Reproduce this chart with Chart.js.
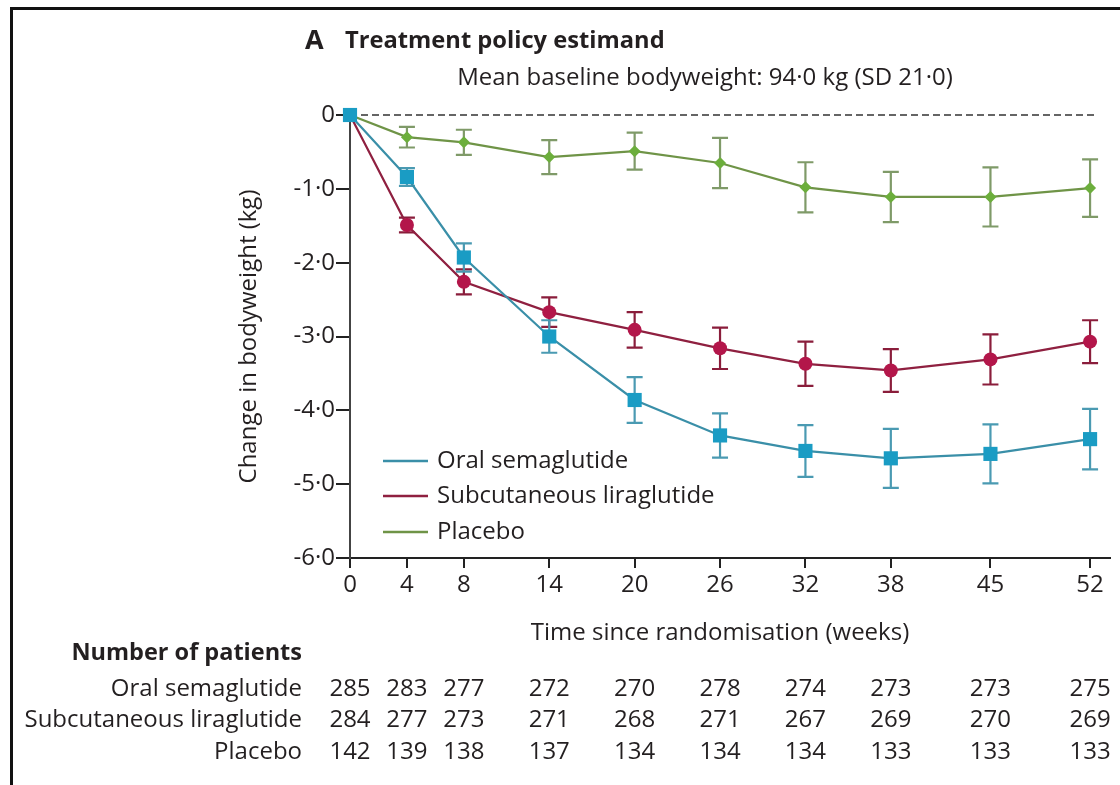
<!DOCTYPE html>
<html>
<head>
<meta charset="utf-8">
<script src="https://cdn.jsdelivr.net/npm/chart.js@4.4.1/dist/chart.umd.min.js"></script>
<style>
  html, body { margin: 0; padding: 0; background: #fff; }
  #wrap { position: relative; width: 1120px; height: 785px; overflow: hidden; }
  #frame { position: absolute; left: 10px; top: 7px; right: -5px; bottom: -5px;
           border-left: 3px solid #111; border-top: 3px solid #111; pointer-events: none; }
  canvas { display: block; }
</style>
</head>
<body>
<div id="wrap">
  <canvas id="chart" width="1120" height="785"></canvas>
  <div id="frame"></div>
</div>
<script>
// Visit weeks (x positions of ticks and table columns)
const weeks = [0, 4, 8, 14, 20, 26, 32, 38, 45, 52];

// Mean change in bodyweight (kg) and error-bar half-widths per group
const semaMean = [0, -0.84, -1.93, -3.00, -3.86, -4.34, -4.55, -4.65, -4.59, -4.39];
const semaErr  = [0, 0.12, 0.19, 0.22, 0.31, 0.30, 0.35, 0.40, 0.40, 0.41];
const liraMean = [0, -1.49, -2.26, -2.67, -2.91, -3.16, -3.37, -3.46, -3.31, -3.07];
const liraErr  = [0, 0.10, 0.17, 0.20, 0.24, 0.28, 0.30, 0.29, 0.34, 0.29];
const placMean = [0, -0.30, -0.37, -0.57, -0.49, -0.65, -0.98, -1.11, -1.11, -0.99];
const placErr  = [0, 0.14, 0.17, 0.23, 0.25, 0.34, 0.34, 0.34, 0.40, 0.39];

// Number of patients at each visit
const nSema = [285, 283, 277, 272, 270, 278, 274, 273, 273, 275];
const nLira = [284, 277, 273, 271, 268, 271, 267, 269, 270, 269];
const nPlac = [142, 139, 138, 137, 134, 134, 134, 133, 133, 133];

const groupNames = ['Oral semaglutide', 'Subcutaneous liraglutide', 'Placebo'];
const yTicks = [0, -1, -2, -3, -4, -5, -6];

const FONT = '"Open Sans", Lato, sans-serif';
const TXT = '#231f20';
const FS = 24;

const series = [
  { name: groupNames[0], mean: semaMean, err: semaErr, n: nSema,
    line: '#3a8fa8', fill: '#1a9cc4', bar: '#4a9ab2', shape: 'rect', r: 10 },
  { name: groupNames[1], mean: liraMean, err: liraErr, n: nLira,
    line: '#8f2040', fill: '#b3164a', bar: '#8a1d3b', shape: 'circle', r: 7 },
  { name: groupNames[2], mean: placMean, err: placErr, n: nPlac,
    line: '#6f9447', fill: '#6cae3c', bar: '#7f9a68', shape: 'rectRot', r: 6 }
];

const datasets = series.map(s => ({
  label: s.name,
  data: weeks.map((w, i) => ({ x: w, y: s.mean[i] })),
  borderColor: s.line,
  borderWidth: 2.2,
  backgroundColor: s.fill,
  pointBackgroundColor: s.fill,
  pointBorderColor: s.fill,
  pointBorderWidth: 0,
  pointStyle: s.shape,
  pointRadius: s.r,
  tension: 0,
  clip: false
}));

// Reference line at 0, error bars, legend, headings and the patient table
const annotations = {
  id: 'annotations',
  beforeDatasetsDraw(chart) {
    const { ctx, scales: { x, y } } = chart;
    ctx.save();
    // dashed zero line
    ctx.strokeStyle = '#333';
    ctx.lineWidth = 1.3;
    ctx.setLineDash([7, 4]);
    ctx.beginPath();
    ctx.moveTo(x.getPixelForValue(0), y.getPixelForValue(0));
    ctx.lineTo(x.getPixelForValue(52.4), y.getPixelForValue(0));
    ctx.stroke();
    ctx.setLineDash([]);
    // error bars
    series.slice().reverse().forEach(s => {
      ctx.strokeStyle = s.bar;
      ctx.lineWidth = 2.2;
      weeks.forEach((w, i) => {
        if (!s.err[i]) return;
        const px = x.getPixelForValue(w);
        const top = y.getPixelForValue(s.mean[i] + s.err[i]);
        const bot = y.getPixelForValue(s.mean[i] - s.err[i]);
        ctx.beginPath();
        ctx.moveTo(px, top); ctx.lineTo(px, bot);
        ctx.moveTo(px - 8, top); ctx.lineTo(px + 8, top);
        ctx.moveTo(px - 8, bot); ctx.lineTo(px + 8, bot);
        ctx.stroke();
      });
    });
    ctx.restore();
  },
  afterDraw(chart) {
    const { ctx, scales: { x } } = chart;
    ctx.save();
    ctx.fillStyle = TXT;
    ctx.textBaseline = 'middle';

    // panel heading
    ctx.textAlign = 'left';
    ctx.font = `bold 27px ${FONT}`;
    ctx.fillText('A', 305, 41);
    ctx.font = `bold 23.7px ${FONT}`;
    ctx.fillText('Treatment policy estimand', 345, 41);
    ctx.font = `${FS}px ${FONT}`;
    ctx.textAlign = 'center';
    ctx.fillText('Mean baseline bodyweight: 94\u00b70 kg (SD 21\u00b70)', 705, 78);

    // x-axis title
    ctx.fillText('Time since randomisation (weeks)', 720, 633);

    // legend inside the plot
    const legY = [461, 496, 532];
    series.forEach((s, k) => {
      ctx.strokeStyle = s.line;
      ctx.lineWidth = 2.5;
      ctx.beginPath();
      ctx.moveTo(383, legY[k]); ctx.lineTo(428, legY[k]);
      ctx.stroke();
      ctx.textAlign = 'left';
      ctx.font = `${FS}px ${FONT}`;
      ctx.fillText(s.name, 437, legY[k]);
    });

    // number of patients table
    ctx.textAlign = 'right';
    ctx.font = `bold 23.5px ${FONT}`;
    ctx.fillText('Number of patients', 302, 653);
    const rowY = [689, 720, 752];
    series.forEach((s, k) => {
      ctx.textAlign = 'right';
      ctx.font = `${FS}px ${FONT}`;
      ctx.fillText(s.name, 302, rowY[k]);
      ctx.textAlign = 'center';
      s.n.forEach((v, i) => {
        ctx.fillText(String(v), x.getPixelForValue(weeks[i]), rowY[k]);
      });
    });
    ctx.restore();
  }
};

new Chart(document.getElementById('chart'), {
  type: 'line',
  data: { datasets },
  plugins: [annotations],
  options: {
    responsive: false,
    animation: false,
    devicePixelRatio: 1,
    layout: { padding: { top: 115, right: 10, left: 0, bottom: 0 } },
    plugins: { legend: { display: false }, tooltip: { enabled: false } },
    elements: { line: { borderCapStyle: 'round' } },
    scales: {
      x: {
        type: 'linear',
        min: 0,
        max: 53.4,
        afterBuildTicks: axis => { axis.ticks = weeks.map(v => ({ value: v })); },
        afterFit: s => { s.height = 227; },
        ticks: {
          autoSkip: false, maxRotation: 0, padding: 3,
          color: TXT, font: { family: FONT, size: FS },
          callback: v => String(v)
        },
        grid: { drawOnChartArea: false, drawTicks: true, tickLength: 10, color: '#222', lineWidth: 2 },
        border: { display: true, color: '#222', width: 2 }
      },
      y: {
        type: 'linear',
        min: -6,
        max: 0,
        afterBuildTicks: axis => { axis.ticks = yTicks.map(v => ({ value: v })); },
        afterFit: s => { s.width = 350; },
        ticks: {
          padding: 1, color: TXT, font: { family: FONT, size: FS },
          callback: v => v === 0 ? '0' : v.toFixed(1).replace('.', '\u00b7')
        },
        grid: { drawOnChartArea: false, drawTicks: true, tickLength: 14, color: '#222', lineWidth: 2 },
        border: { display: true, color: '#444', width: 2 },
        title: {
          display: true, text: 'Change in bodyweight (kg)',
          color: TXT, font: { family: FONT, size: FS }, padding: { top: 235, bottom: 0 }
        }
      }
    }
  }
});
</script>
</body>
</html>
